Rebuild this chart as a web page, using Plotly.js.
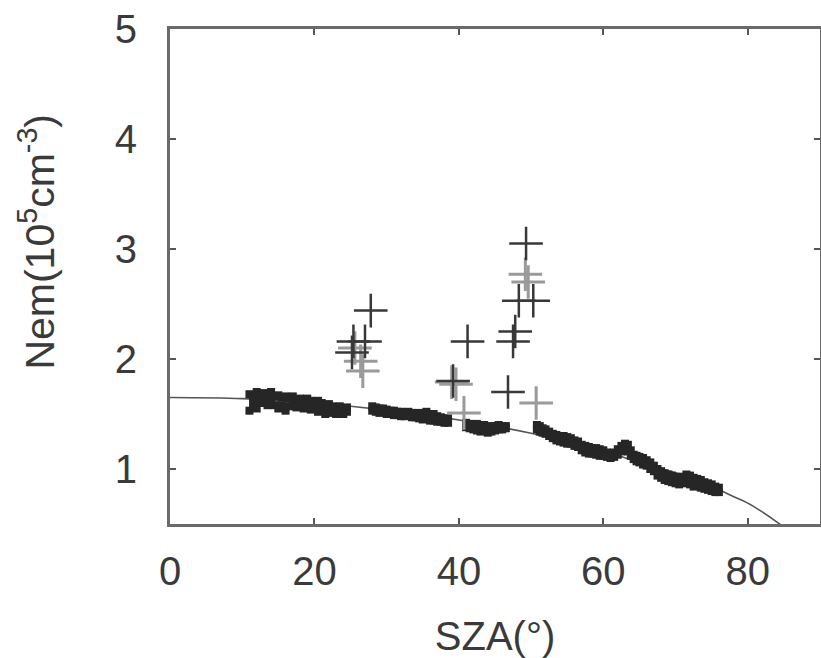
<!DOCTYPE html>
<html>
<head>
<meta charset="utf-8">
<script src="https://cdn.plot.ly/plotly-3.0.1.min.js"></script>
<style>html,body{margin:0;padding:0;background:#fff;}#chart{width:821px;height:658px;}</style>
</head>
<body>
<div id="chart"></div>
<script>
// Model curve
const curveSza = [0, 10, 20, 30, 40, 50, 55, 60, 65, 70, 75, 78, 80, 82, 84, 85];
const curveNem = [1.65, 1.64, 1.60, 1.535, 1.445, 1.325, 1.25, 1.165, 1.06, 0.965, 0.84, 0.75, 0.69, 0.61, 0.52, 0.47];

// Observed dense data: upper and lower edge of the band at each SZA
const obsSza = [11.0,11.5,12.0,12.5,13.0,13.5,14.0,14.5,15.0,15.5,16.0,16.5,17.0,17.5,18.0,18.5,19.0,19.5,20.0,20.5,21.0,21.5,22.0,22.5,23.0,23.5,24.0,24.5,
  28.0,28.5,29.0,29.5,30.0,30.5,31.0,31.5,32.0,32.5,33.0,33.5,34.0,34.5,35.0,35.5,36.0,36.5,37.0,37.5,38.0,38.5,
  41.0,41.5,42.0,42.5,43.0,43.5,44.0,44.5,45.0,45.5,46.0,46.5,
  50.8,51.2,51.6,52.0,52.5,53.0,53.5,54.0,54.5,55.0,55.5,56.0,56.5,57.0,57.5,58.0,58.5,59.0,59.5,60.0,60.5,61.0,61.5,62.0,62.5,63.0,63.4,63.8,64.2,64.6,65.0,65.5,66.0,66.5,67.0,67.5,68.0,68.5,69.0,69.5,70.0,70.5,71.0,71.5,72.0,72.5,73.0,73.5,74.0,74.5,75.0,75.5,76.0];
const obsNemHigh = [1.68,1.66,1.70,1.67,1.69,1.68,1.70,1.66,1.67,1.65,1.66,1.64,1.66,1.63,1.64,1.62,1.64,1.62,1.61,1.62,1.60,1.58,1.59,1.57,1.56,1.57,1.55,1.56,
  1.57,1.56,1.55,1.55,1.54,1.53,1.53,1.52,1.52,1.51,1.52,1.51,1.50,1.51,1.50,1.52,1.49,1.50,1.48,1.47,1.46,1.46,
  1.42,1.41,1.40,1.41,1.39,1.40,1.38,1.39,1.39,1.40,1.39,1.39,
  1.40,1.39,1.37,1.36,1.34,1.32,1.31,1.30,1.30,1.29,1.28,1.26,1.25,1.22,1.21,1.20,1.19,1.19,1.18,1.17,1.15,1.14,1.15,1.18,1.21,1.23,1.22,1.17,1.13,1.12,1.11,1.10,1.08,1.06,1.03,1.00,0.98,0.96,0.95,0.94,0.93,0.92,0.93,0.95,0.94,0.92,0.91,0.90,0.88,0.87,0.86,0.84,0.83];
const obsNemLow = [1.53,1.60,1.55,1.60,1.63,1.58,1.62,1.58,1.55,1.58,1.53,1.57,1.58,1.56,1.58,1.55,1.57,1.54,1.55,1.52,1.54,1.50,1.52,1.51,1.50,1.52,1.50,1.52,
  1.53,1.52,1.51,1.52,1.50,1.50,1.49,1.49,1.48,1.48,1.49,1.47,1.47,1.46,1.45,1.46,1.44,1.44,1.43,1.43,1.42,1.42,
  1.38,1.37,1.36,1.35,1.34,1.35,1.33,1.34,1.35,1.36,1.36,1.37,
  1.36,1.34,1.33,1.32,1.30,1.28,1.26,1.25,1.24,1.23,1.23,1.21,1.20,1.17,1.15,1.14,1.14,1.13,1.12,1.12,1.11,1.10,1.11,1.13,1.16,1.18,1.16,1.12,1.09,1.07,1.06,1.04,1.03,1.00,0.98,0.94,0.92,0.90,0.89,0.88,0.87,0.86,0.87,0.88,0.86,0.84,0.85,0.83,0.82,0.81,0.80,0.79,0.79];

// Cross markers (dark and gray)
const darkSza = [27.8, 27.0, 25.4, 25.2, 41.2, 39.2, 49.3, 48.3, 50.3, 47.8, 47.5, 46.8];
const darkNem = [2.44, 2.16, 2.16, 2.06, 2.16, 1.80, 3.05, 2.53, 2.53, 2.25, 2.16, 1.70];
const graySza = [26.4, 26.7, 39.6, 39.0, 40.7, 49.2, 49.6, 50.7, 25.6];
const grayNem = [1.98, 1.89, 1.77, 1.79, 1.51, 2.77, 2.70, 1.60, 2.10];

const xTicks = [0, 20, 40, 60, 80];
const yTicks = [1, 2, 3, 4, 5];

const traces = [
  {x: curveSza, y: curveNem, mode: 'lines', line: {color: '#555', width: 1.6, shape: 'spline'}, hoverinfo: 'skip'},
  {x: obsSza.concat(obsSza), y: obsNemHigh.concat(obsNemLow), mode: 'markers',
   marker: {symbol: 'square', size: 8, color: '#262626'}},
  {x: graySza, y: grayNem, mode: 'markers',
   marker: {symbol: 'cross-thin', size: 24, line: {color: '#9a9a9a', width: 3}}},
  {x: darkSza, y: darkNem, mode: 'markers',
   marker: {symbol: 'cross-thin', size: 24, line: {color: '#383838', width: 2.5}}}
];

const fontFam = 'Liberation Sans, Arial, sans-serif';
const txtColor = '#3a3a3a';
const layout = {
  width: 821, height: 658,
  margin: {l: 170, r: 1, t: 29, b: 134},
  paper_bgcolor: '#fff', plot_bgcolor: '#fff',
  showlegend: false,
  font: {family: fontFam, color: txtColor, size: 40},
  xaxis: {
    range: [0, 90], tickvals: xTicks, ticktext: xTicks.map(String),
    ticks: 'inside', ticklen: 6, tickwidth: 2, tickcolor: '#555',
    showline: true, linecolor: '#6a6a6a', linewidth: 3, mirror: 'ticks',
    showgrid: false, zeroline: false, ticklabelstandoff: 10,
    tickfont: {size: 40, family: fontFam, color: txtColor},
    title: {text: 'SZA(°)', font: {size: 40, family: fontFam, color: txtColor}, standoff: 32},
    automargin: false
  },
  yaxis: {
    range: [0.5, 5], tickvals: yTicks, ticktext: yTicks.map(String),
    ticks: 'inside', ticklen: 6, tickwidth: 2, tickcolor: '#555',
    showline: true, linecolor: '#6a6a6a', linewidth: 3, mirror: 'ticks',
    showgrid: false, zeroline: false, ticklabelstandoff: 22,
    tickfont: {size: 40, family: fontFam, color: txtColor},
    automargin: false
  },
  annotations: [{
    text: 'Nem(10<sup>5</sup>cm<sup>-3</sup>)', textangle: -90,
    xref: 'paper', yref: 'paper', x: -0.205, y: 0.57, xanchor: 'center', yanchor: 'middle',
    showarrow: false, font: {size: 41, family: fontFam, color: txtColor}
  }]
};

Plotly.newPlot('chart', traces, layout, {staticPlot: true, displayModeBar: false});
</script>
</body>
</html>
